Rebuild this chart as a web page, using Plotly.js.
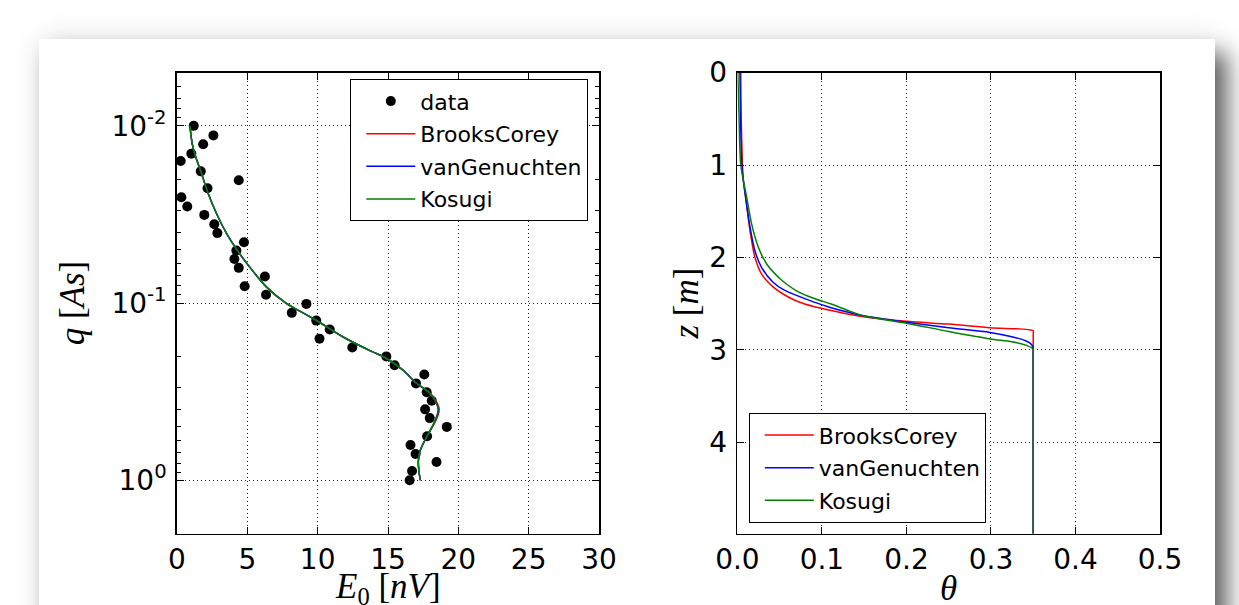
<!DOCTYPE html>
<html><head><meta charset="utf-8">
<script src="https://cdn.plot.ly/plotly-3.0.1.min.js"></script>
<style>
html,body{margin:0;padding:0;background:#fff;width:1239px;height:605px;overflow:hidden;}
#card{position:absolute;left:39px;top:39px;width:1176px;height:640px;background:#fff;
 box-shadow:12px 14px 22px rgba(0,0,0,0.62), 0 -4px 30px rgba(0,0,0,0.07);}
#chart{position:absolute;left:0;top:0;width:1239px;height:640px;}
</style></head><body>
<div id="card"></div><div id="chart"></div>
<script>
// ---- left panel: measured data ----
const qData = [0.0100,0.01132,0.0127,0.01435,0.01578,0.01806,0.0203,0.0225,0.0253,0.0285,
  0.0318,0.0359,0.0403,0.0454,0.0505,0.0564,0.0633,0.0709,0.0804,0.0898,
  0.1011,0.1136,0.1256,0.141,0.1588,0.178,0.200,0.2245,0.253,0.284,
  0.319,0.356,0.398,0.446,0.500,0.565,0.633,0.711,0.789,0.886,1.0];
const eData = [1.19,2.59,1.86,1.02,0.26,1.69,4.39,2.17,0.31,0.73,
  1.94,2.65,2.87,4.76,4.22,4.08,4.39,6.25,4.81,6.33,
  9.20,8.16,9.90,10.86,10.13,12.46,14.88,15.47,17.58,16.99,
  17.75,18.11,17.64,17.97,19.18,17.78,16.60,16.96,18.45,16.71,16.54];

// ---- left panel: fitted curves ----
const qFit = [0.0100,0.01259,0.01445,0.01862,0.02399,0.03162,0.04074,0.05012,0.06310,0.08128,
  0.1000,0.1230,0.1549,0.1862,0.2042,0.2399,0.2818,0.3162,0.3548,0.3981,
  0.4571,0.5129,0.5754,0.6761,0.7762,0.8913,1.0];
const eFitBC = [0.92,1.08,1.27,1.75,2.21,2.84,3.54,4.26,5.20,6.37,
  7.75,9.75,11.78,13.75,14.85,16.09,16.98,17.87,18.40,18.64,
  18.42,18.08,17.72,17.30,17.16,17.20,17.30];
const eFitVG = [0.92,1.08,1.27,1.75,2.21,2.84,3.54,4.26,5.20,6.37,
  7.75,9.75,11.78,13.75,14.85,16.09,16.98,17.85,18.36,18.58,
  18.38,18.06,17.72,17.30,17.16,17.20,17.30];
const eFitK = [0.92,1.08,1.27,1.75,2.21,2.84,3.54,4.26,5.20,6.37,
  7.75,9.75,11.78,13.75,14.85,16.09,16.98,17.85,18.34,18.56,
  18.36,18.05,17.72,17.30,17.16,17.20,17.30];

// ---- right panel: profiles ----
const zBC  = [0,0.5,1.0,1.17,1.38,1.71,2.0,2.18,2.32,2.40,2.47,2.53,2.57,2.61,2.64,2.69,2.72,2.76,2.793,2.83,5.0];
const thBC = [0.004,0.0045,0.006,0.007,0.0102,0.0149,0.0208,0.0287,0.0425,0.055,0.070,0.090,0.110,0.130,0.149,0.200,0.250,0.299,0.350,0.350,0.350];
const zVG  = [0,0.5,1.0,1.38,1.67,1.93,2.11,2.27,2.35,2.41,2.48,2.54,2.59,2.63,2.70,2.76,2.81,2.86,2.90,2.94,2.99,3.03,5.0];
const thVG = [0.003,0.0038,0.0052,0.0102,0.0149,0.0208,0.0287,0.0425,0.055,0.070,0.090,0.110,0.130,0.149,0.200,0.250,0.299,0.326,0.341,0.348,0.350,0.350,0.350];
const zK   = [0,0.5,1.0,1.35,1.64,1.89,2.07,2.23,2.30,2.36,2.44,2.50,2.57,2.63,2.71,2.80,2.88,2.91,2.95,2.99,3.03,5.0];
const thK  = [0.0005,0.002,0.004,0.011,0.0169,0.0248,0.0347,0.0504,0.060,0.070,0.090,0.110,0.130,0.149,0.200,0.250,0.299,0.325,0.342,0.350,0.350,0.350];

const names = ['BrooksCorey','vanGenuchten','Kosugi'];
const colors = ['#ff0000','#0000ff','#008000'];

const traces = [
  {x:eData, y:qData, type:'scatter', mode:'markers', name:'data',
   marker:{color:'#000', size:10}, xaxis:'x', yaxis:'y', legend:'legend', legendgroup:'a0'},
];
[eFitBC,eFitVG,eFitK].forEach((e,i)=>traces.push({x:e, y:qFit, type:'scatter', mode:'lines',
  name:names[i], line:{color:colors[i], width:1.5, shape:'spline'}, xaxis:'x', yaxis:'y',
  legend:'legend', legendgroup:'a'+(i+1)}));
[[thBC,zBC],[thVG,zVG],[thK,zK]].forEach((p,i)=>traces.push({x:p[0], y:p[1], type:'scatter', mode:'lines',
  name:names[i], line:{color:colors[i], width:1.5, shape:'spline', smoothing:0.8}, xaxis:'x2', yaxis:'y2',
  legend:'legend2', legendgroup:'b'+i}));

const H = 640;
const ax = {ticks:'inside', ticklen:7, tickwidth:1, tickcolor:'#000', showline:true, linecolor:'#000',
  linewidth:1.8, mirror:'ticks', showgrid:true, gridcolor:'#222', griddash:'1px,3px', gridwidth:1,
  zeroline:false, fixedrange:true, tickfont:{family:'DejaVu Sans', size:28, color:'#000'}};
const tfont = {family:'Liberation Serif', size:35, color:'#000'};
const lfont = {family:'DejaVu Sans', size:22, color:'#000'};
const yDom = [1-533.6/H, 1-72.5/H];

const layout = {
  width:1239, height:H, margin:{l:0,r:0,t:0,b:0},
  paper_bgcolor:'rgba(0,0,0,0)', plot_bgcolor:'#fff',
  font:{family:'DejaVu Sans', size:22, color:'#000'},
  showlegend:true,
  xaxis:Object.assign({}, ax, {domain:[177/1239, 599/1239], range:[0,30], tick0:0, dtick:5, anchor:'y'}),
  yaxis:Object.assign({}, ax, {domain:yDom, type:'log', range:[Math.log10(2), Math.log10(0.005)],
    tickmode:'array', tickvals:[0.01,0.1,1], ticktext:['10<sup>-2</sup>','10<sup>-1</sup>','10<sup>0</sup>'],
    minor:{ticks:'inside', ticklen:4, tickwidth:1, tickcolor:'#000', dtick:'D1', showgrid:false},
    anchor:'x', ticklabelstandoff:3,
    title:{text:'<i>q</i> [<i>As</i>]', font:tfont, standoff:16}}),
  xaxis2:Object.assign({}, ax, {domain:[737.4/1239, 1160/1239], range:[0,0.5], tick0:0, dtick:0.1, tickformat:'.1f', anchor:'y2',
    title:{text:'<i>θ</i>', font:tfont, standoff:0}}),
  yaxis2:Object.assign({}, ax, {domain:yDom, range:[4.985,0], tick0:0, dtick:1, anchor:'x2', ticklabelstandoff:3,
    title:{text:'<i>z</i> [<i>m</i>]', font:tfont, standoff:0}}),
  annotations:[{text:'<i>E</i><sub>0</sub> [<i>nV</i>]', font:tfont, xref:'x domain', x:0.5, xanchor:'center',
    yref:'paper', y:1-588/H, yanchor:'middle', showarrow:false}],
  legend:{x:588/1239, xanchor:'right', y:1-79/H, yanchor:'top', bgcolor:'#fff', bordercolor:'#000', borderwidth:1.3,
    font:lfont, tracegroupgap:1, traceorder:'grouped', indentation:10, itemwidth:49},
  legend2:{x:748.5/1239, xanchor:'left', y:1-413/H, yanchor:'top', bgcolor:'#fff', bordercolor:'#000', borderwidth:1.3,
    font:lfont, tracegroupgap:1, traceorder:'grouped', indentation:10, itemwidth:49}
};

Plotly.newPlot('chart', traces, layout, {staticPlot:true, displayModeBar:false});
</script>
</body></html>
